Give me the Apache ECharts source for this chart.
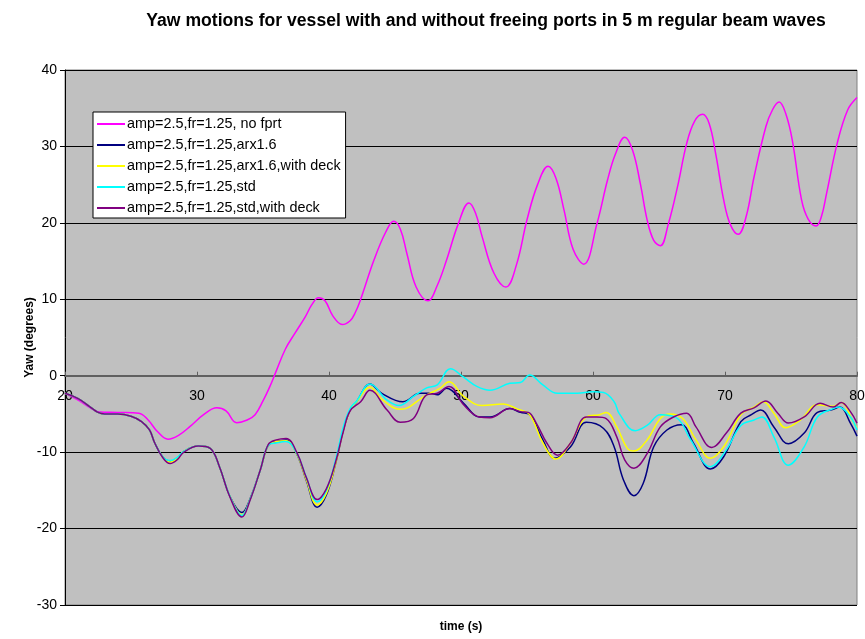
<!DOCTYPE html>
<html>
<head>
<meta charset="utf-8">
<title>Yaw motions</title>
<script src="https://cdn.jsdelivr.net/npm/echarts@6/dist/echarts.min.js"></script>
<style>
  html, body { margin: 0; padding: 0; background: #ffffff; }
  #chart { width: 865px; height: 639px; }
</style>
</head>
<body>
<div id="chart"></div>
<script>
// Series names
const seriesNames = [
  'amp=2.5,fr=1.25, no fprt',
  'amp=2.5,fr=1.25,arx1.6',
  'amp=2.5,fr=1.25,arx1.6,with deck',
  'amp=2.5,fr=1.25,std',
  'amp=2.5,fr=1.25,std,with deck'
];

// No freeing ports
const noFprtT = [20,21,22,22.5,24,25.6,26.3,27.0,27.8,28.6,29.5,30.5,31.5,32.2,33.0,33.8,34.4,35.0,35.5,36.0,36.7,37.4,38.2,38.7,39.2,39.7,40.3,41.0,41.6,42.0,42.4,43.4,44.3,44.9,45.4,45.9,46.6,47.5,48.2,48.9,49.8,50.6,51.1,51.6,52.5,53.4,54.2,55.0,55.8,56.6,57.2,57.8,58.5,59.3,60.3,61.1,61.7,62.4,63.0,63.6,64.1,64.6,65.1,65.7,66.4,67.1,67.7,68.3,68.8,69.3,69.9,70.4,71.0,71.6,72.2,73.1,73.6,74.1,74.6,75.1,75.8,76.3,76.9,77.3,77.7,78.5,79.3,80];
const noFprtY = [-2.3,-3.2,-4.3,-4.7,-4.8,-4.9,-5.8,-7.3,-8.3,-7.8,-6.6,-5.1,-4.2,-4.6,-6.15,-5.8,-5.1,-3.3,-1.5,0.6,3.5,5.5,7.7,9.3,10.2,9.8,7.8,6.7,7.2,8.3,10.0,15.1,18.8,20.2,19.2,16.0,11.6,9.8,11.8,15.1,19.9,22.6,21.3,18.2,13.4,11.6,14.5,20.4,25.0,27.4,25.8,21.7,16.5,14.6,19.9,25.6,29.0,31.2,29.5,25.0,20.4,17.7,17.0,19.8,24.7,30.4,33.3,34.2,33.0,29.0,23.0,19.8,18.5,20.8,26.0,32.6,34.8,35.8,34.3,30.8,23.0,20.5,19.6,20.8,23.9,30.4,34.8,36.4];

// arx1.6
const arxT = [20,21,22,22.5,23,24,25,25.8,26.4,26.8,27.4,27.96,28.5,29.0,30.1,31.0,31.7,32.5,33.4,34.0,34.8,35.4,36.0,36.75,37.6,38.3,39.1,39.8,40.5,41.1,41.6,42.1,43.1,44.0,45.6,46.9,47.7,48.2,48.9,50.2,51.4,52.2,53.7,54.5,55.2,56.2,57.1,58.3,59.5,60.8,61.6,62.3,63.1,63.8,64.6,65.6,66.7,67.6,68.9,69.9,71.2,72.0,72.7,73.7,74.8,76.0,77.0,78.0,78.7,79.5,80];
const arxY = [-2.3,-3.0,-4.2,-4.8,-5.0,-5.0,-5.3,-6.0,-7.1,-8.8,-10.6,-11.2,-10.8,-9.9,-9.2,-9.5,-11.9,-15.8,-17.9,-16.2,-12.3,-9.1,-8.6,-8.4,-10.4,-13.8,-17.2,-15.6,-11.5,-7.0,-4.5,-3.4,-1.1,-2.3,-3.4,-2.3,-2.3,-2.5,-1.65,-3.6,-5.4,-5.4,-4.3,-4.8,-5.1,-8.4,-10.8,-9.3,-6.1,-6.9,-9.3,-13.6,-15.7,-14.1,-9.3,-7.1,-6.4,-8.8,-12.2,-10.6,-6.0,-5.1,-4.5,-6.7,-8.9,-7.5,-4.8,-4.5,-4.1,-6.2,-7.9];

// arx1.6 with deck
const arxDeckT = [20,21,22,22.5,23,24,25,25.8,26.4,26.8,27.4,27.96,28.5,29.0,30.1,31.0,31.7,32.5,33.4,34.0,34.8,35.4,36.0,36.75,37.6,38.3,39.1,39.8,40.5,41.1,41.6,42.1,43.1,44.0,45.4,47.4,48.4,49.1,50.2,51.6,53.2,54.2,55.2,56.2,57.2,58.3,59.5,60.5,61.0,61.8,62.6,63.1,64.1,65.1,65.8,66.8,67.8,68.9,69.9,71.2,72.2,72.9,73.7,74.6,75.7,77.0,78.2,78.8,79.7,80];
const arxDeckY = [-2.3,-3.0,-4.2,-4.8,-5.0,-5.0,-5.3,-6.0,-7.1,-8.8,-10.6,-11.3,-10.8,-9.9,-9.2,-9.5,-11.9,-15.8,-18.2,-16.3,-12.3,-9.1,-8.6,-8.5,-10.4,-13.7,-16.9,-15.4,-11.5,-7.0,-4.5,-3.4,-1.5,-3.1,-4.4,-2.5,-1.65,-0.8,-2.7,-3.9,-3.7,-4.3,-5.1,-8.8,-10.9,-8.8,-5.4,-5.1,-4.8,-6.7,-9.5,-9.85,-8.4,-5.6,-5.0,-5.6,-8.4,-10.8,-9.3,-5.1,-4.1,-3.4,-4.9,-6.8,-5.8,-3.8,-4.0,-3.5,-6.0,-6.8];

// std
const stdT = [20,21,22,22.5,23,24,25,25.8,26.4,26.8,27.4,27.96,28.5,29.0,30.1,31.0,31.7,32.5,33.4,34.0,34.8,35.4,36.0,36.75,37.6,38.3,39.1,39.8,40.5,41.1,41.6,42.1,43.1,44.4,45.3,46.4,47.4,48.2,49.2,50.2,51.2,52.2,53.7,54.5,55.2,56.2,57.3,58.8,60.0,60.8,61.6,62.0,63.2,64.1,65.1,66.4,67.4,68.9,70.1,71.2,72.2,72.8,73.7,74.8,76.0,77.0,78.2,78.6,79.5,80];
const stdY = [-2.3,-3.0,-4.2,-4.8,-5.0,-5.0,-5.3,-6.0,-7.1,-8.8,-10.6,-11.1,-10.7,-9.9,-9.2,-9.5,-11.9,-15.8,-18.3,-16.3,-12.3,-9.1,-8.8,-8.6,-10.3,-13.4,-16.5,-15.0,-11.0,-6.6,-4.3,-3.3,-1.1,-3.2,-3.9,-2.7,-1.6,-1.2,0.9,-0.2,-1.4,-1.9,-1.0,-0.9,0.1,-1.2,-2.3,-2.3,-2.1,-2.2,-3.4,-5.0,-7.2,-6.5,-5.1,-5.6,-8.4,-11.9,-9.7,-6.5,-5.8,-5.4,-8.0,-11.7,-9.3,-5.4,-4.3,-4.1,-5.4,-7.1];

// std with deck
const stdDeckT = [20,21,22,22.5,23,24,25,25.8,26.4,26.8,27.4,27.96,28.5,29.0,30.1,31.0,31.7,32.5,33.4,34.0,34.8,35.4,36.0,36.75,37.6,38.3,39.1,39.8,40.5,41.1,41.6,42.4,43.1,44.4,45.4,46.4,47.4,48.2,49.1,50.2,51.4,52.2,53.7,54.5,55.1,55.7,56.5,57.3,58.3,59.5,60.3,61.0,61.8,62.4,63.1,64.1,65.1,66.1,67.1,67.8,69.0,70.1,71.2,72.2,73.1,74.0,74.8,76.0,77.2,78.2,78.8,79.5,80];
const stdDeckY = [-2.3,-3.0,-4.2,-4.8,-5.0,-5.0,-5.3,-6.0,-7.1,-8.8,-10.7,-11.5,-11.0,-10.0,-9.2,-9.5,-11.9,-15.9,-18.5,-16.4,-12.3,-9.0,-8.4,-8.2,-10.2,-13.4,-16.2,-14.8,-11.3,-7.2,-4.6,-3.4,-1.9,-4.5,-6.1,-5.6,-2.5,-2.3,-1.4,-3.8,-5.4,-5.5,-4.3,-4.7,-4.8,-6.2,-8.8,-10.4,-8.8,-5.4,-5.4,-5.6,-8.0,-11.0,-12.1,-10.2,-6.7,-5.4,-4.9,-6.7,-9.4,-7.5,-4.9,-4.2,-3.3,-4.9,-6.2,-5.4,-3.6,-4.1,-3.5,-4.7,-6.2];

const seriesTimes = [noFprtT, arxT, arxDeckT, stdT, stdDeckT];
const seriesValues = [noFprtY, arxY, arxDeckY, stdY, stdDeckY];
const seriesColors = ['#ff00ff', '#000080', '#ffff00', '#00ffff', '#800080'];

// Axis tick values
const xTicks = [20, 30, 40, 50, 60, 70, 80];
const yTicks = [-30, -20, -10, 0, 10, 20, 30, 40];

const FONT = 'Liberation Sans, Arial, sans-serif';

// Plot box (pixels) used to place the time axis on the zero line
const GRID_TOP = 70;
const GRID_BOTTOM = 34;
const CHART_H = 639;

function pairs(ts, vs) {
  return ts.map((t, i) => [t, vs[i]]);
}

const yMin = yTicks[0];
const yMax = yTicks[yTicks.length - 1];
const plotH = CHART_H - GRID_TOP - GRID_BOTTOM;
// distance from the bottom edge of the plot up to the value 0
const zeroLift = plotH * (0 - yMin) / (yMax - yMin);

const chart = echarts.init(document.getElementById('chart'), null, { renderer: 'canvas' });

chart.setOption({
  animation: false,
  backgroundColor: '#ffffff',
  title: {
    text: 'Yaw motions for vessel with and without freeing ports in 5 m regular beam waves',
    left: 481,
    textAlign: 'center',
    top: 7,
    textStyle: { fontFamily: FONT, fontSize: 17.6, fontWeight: 'bold', color: '#000' }
  },
  legend: {
    orient: 'vertical',
    left: 93,
    top: 112,
    backgroundColor: '#ffffff',
    borderColor: '#000000',
    borderWidth: 1,
    padding: [4, 5, 2, 4],
    icon: 'rect',
    itemWidth: 28,
    itemHeight: 2,
    itemGap: 5,
    textStyle: { fontFamily: FONT, fontSize: 14.4, color: '#000', height: 16, lineHeight: 16, padding: [0, 0, 0, -3] },
    data: seriesNames
  },
  grid: {
    left: 65,
    right: 8,
    top: GRID_TOP,
    bottom: GRID_BOTTOM,
    outerBoundsMode: 'none',
    containLabel: false,
    show: true,
    backgroundColor: '#c0c0c0',
    borderColor: '#808080',
    borderWidth: 1
  },
  xAxis: {
    type: 'value',
    min: xTicks[0],
    max: xTicks[xTicks.length - 1],
    interval: 10,
    offset: -zeroLift,
    name: 'time (s)',
    nameLocation: 'middle',
    nameGap: 245,
    nameMoveOverlap: false,
    nameTextStyle: { fontFamily: FONT, fontSize: 12, fontWeight: 'bold', color: '#000' },
    axisLine: { onZero: false, lineStyle: { color: '#606060', width: 2 } },
    axisTick: { inside: true, length: 4, lineStyle: { color: '#606060' } },
    axisLabel: { fontFamily: FONT, fontSize: 14, color: '#000', margin: 13 },
    splitLine: { show: false }
  },
  yAxis: {
    type: 'value',
    min: yMin,
    max: yMax,
    interval: 10,
    name: 'Yaw (degrees)',
    nameLocation: 'middle',
    nameGap: 29,
    nameMoveOverlap: false,
    nameTextStyle: { fontFamily: FONT, fontSize: 12, fontWeight: 'bold', color: '#000' },
    axisLine: { show: true, onZero: false, lineStyle: { color: '#000', width: 1 } },
    axisTick: { show: true, length: 5, lineStyle: { color: '#000' } },
    axisLabel: { fontFamily: FONT, fontSize: 14, color: '#000', margin: 8 },
    splitLine: { show: true, lineStyle: { color: '#000', width: 1 } }
  },
  series: seriesNames.map((name, i) => ({
    name: name,
    type: 'line',
    data: pairs(seriesTimes[i], seriesValues[i]),
    smooth: 0.4,
    symbol: 'none',
    lineStyle: { color: seriesColors[i], width: 1.5 },
    itemStyle: { color: seriesColors[i] },
    z: 3 + i
  }))
});
</script>
</body>
</html>
